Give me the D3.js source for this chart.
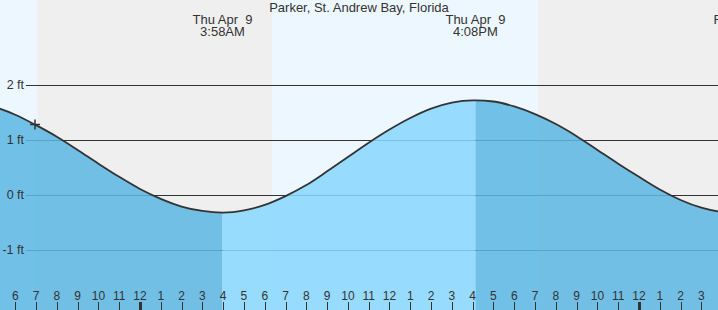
<!DOCTYPE html>
<html>
<head>
<meta charset="utf-8">
<script src="https://cdn.jsdelivr.net/npm/d3@7"></script>
<style>
  body { margin: 0; background: #fff; }
  svg { display: block; font-family: "Liberation Sans", Arial, sans-serif; }
  text { white-space: pre; }
</style>
</head>
<body>
<svg id="chart"></svg>
<script>
// данные: прилив/отлив (футы), время локальное
const title = "Parker, St. Andrew Bay, Florida";

const eventTimes = ["2026-04-08 14:58", "2026-04-09 03:58", "2026-04-09 16:08", "2026-04-10 04:56"];
const eventHeights = [1.72, -0.32, 1.72, -0.34];
const eventTypes = ["high", "low", "high", "low"];

const hourTimes = [
    "2026-04-08 17:00", "2026-04-08 18:00", "2026-04-08 19:00", "2026-04-08 20:00",
    "2026-04-08 21:00", "2026-04-08 22:00", "2026-04-08 23:00", "2026-04-09 00:00",
    "2026-04-09 01:00", "2026-04-09 02:00", "2026-04-09 03:00", "2026-04-09 04:00",
    "2026-04-09 05:00", "2026-04-09 06:00", "2026-04-09 07:00", "2026-04-09 08:00",
    "2026-04-09 09:00", "2026-04-09 10:00", "2026-04-09 11:00", "2026-04-09 12:00",
    "2026-04-09 13:00", "2026-04-09 14:00", "2026-04-09 15:00", "2026-04-09 16:00",
    "2026-04-09 17:00", "2026-04-09 18:00", "2026-04-09 19:00", "2026-04-09 20:00",
    "2026-04-09 21:00", "2026-04-09 22:00", "2026-04-09 23:00", "2026-04-10 00:00",
    "2026-04-10 01:00", "2026-04-10 02:00", "2026-04-10 03:00", "2026-04-10 04:00"
];
const hourHeights = [
    1.60, 1.46, 1.27, 1.06, 0.82, 0.57, 0.33, 0.11,
    -0.07, -0.21, -0.29, -0.32, -0.28, -0.18, -0.02, 0.18,
    0.43, 0.69, 0.95, 1.19, 1.40, 1.57, 1.68, 1.72,
    1.70, 1.61, 1.47, 1.29, 1.07, 0.82, 0.57, 0.33,
    0.10, -0.09, -0.23, -0.31
];

// восход / закат
const sunTimes = ["2026-04-08 07:20", "2026-04-08 19:03", "2026-04-09 06:21", "2026-04-09 19:08", "2026-04-10 06:20"];
const sunTypes = ["rise", "set", "rise", "set", "rise"];

const yTicks = [-1, 0, 1, 2];

// текущий момент (крестик)
const nowTime = "2026-04-08 18:57";
const nowHeight = 1.28;

const viewStart = "2026-04-08 17:16";
const viewEnd = "2026-04-10 03:48";

const width = 718;
const height = 310;

const parse = d3.timeParse("%Y-%m-%d %H:%M");

const svg = d3.select("#chart")
    .attr("width", width)
    .attr("height", height);

// шкалы
const x = d3.scaleTime()
    .domain([parse(viewStart), parse(viewEnd)])
    .range([0, width]);

const y = d3.scaleLinear()
    .domain([-1, 2])
    .range([250, 85]);

// фон день/ночь
const sun = sunTimes.map((t, i) => ({ t: parse(t), type: sunTypes[i] }));
const bands = [];
for (let i = 0; i < sun.length - 1; i++) {
    bands.push({ a: sun[i].t, b: sun[i + 1].t, day: sun[i].type == "rise" });
}
svg.append("g")
    .selectAll("rect")
    .data(bands)
    .enter()
    .append("rect")
    .attr("x", d => x(d.a))
    .attr("width", d => x(d.b) - x(d.a))
    .attr("y", 0)
    .attr("height", height)
    .attr("fill", d => d.day ? "#edf7ff" : "#efefef");

// сетка по оси Y (под водой)
svg.append("g")
    .selectAll("line")
    .data(yTicks)
    .enter()
    .append("line")
    .attr("x1", 26)
    .attr("x2", width)
    .attr("y1", d => Math.round(y(d)) + 0.5)
    .attr("y2", d => Math.round(y(d)) + 0.5)
    .attr("stroke", "#333")
    .attr("stroke-width", 1);

// общий ряд: почасовые + экстремумы
const events = eventTimes.map((t, i) => ({ t: parse(t), h: eventHeights[i], type: eventTypes[i] }));
const series = hourTimes.map((t, i) => ({ t: parse(t), h: hourHeights[i] }))
    .concat(events)
    .sort((a, b) => a.t - b.t);

const area = d3.area()
    .x(d => x(d.t))
    .y0(height)
    .y1(d => y(d.h))
    .curve(d3.curveMonotoneX);

const line = d3.line()
    .x(d => x(d.t))
    .y(d => y(d.h))
    .curve(d3.curveMonotoneX);

// вода: отлив темнее, прилив светлее
const segs = [];
for (let i = 0; i < events.length - 1; i++) {
    const a = events[i].t, b = events[i + 1].t;
    segs.push({
        pts: series.filter(d => d.t >= a && d.t <= b),
        falling: events[i].type == "high"
    });
}
svg.append("g")
    .selectAll("path")
    .data(segs)
    .enter()
    .append("path")
    .attr("d", d => area(d.pts))
    .attr("fill", d => d.falling ? "rgb(92,183,227)" : "rgb(136,215,255)")
    .attr("fill-opacity", 0.86);

// кривая уровня
svg.append("path")
    .datum(series)
    .attr("fill", "none")
    .attr("stroke", "#333")
    .attr("stroke-width", 1.8)
    .attr("d", line);

// подписи футов
svg.append("g")
    .selectAll("text")
    .data(yTicks)
    .enter()
    .append("text")
    .attr("x", 24)
    .attr("y", d => y(d) + 4)
    .attr("text-anchor", "end")
    .attr("font-size", 12.5)
    .attr("fill", "#333")
    .text(d => d + " ft");

// часовые отметки снизу
const hours = x.ticks(d3.timeHour.every(1));
const axis = svg.append("g");
axis.selectAll("line")
    .data(hours)
    .enter()
    .append("line")
    .attr("x1", d => Math.round(x(d)) + 0.5)
    .attr("x2", d => Math.round(x(d)) + 0.5)
    .attr("y1", 302)
    .attr("y2", height)
    .attr("stroke", "#333")
    .attr("stroke-width", d => d.getHours() == 0 ? 3 : 1);
axis.selectAll("text")
    .data(hours)
    .enter()
    .append("text")
    .attr("x", d => x(d))
    .attr("y", 300)
    .attr("text-anchor", "middle")
    .attr("font-size", 12)
    .attr("fill", "#333")
    .text(d3.timeFormat("%-I"));

// подписи экстремумов
const fmtDay = d3.timeFormat("%a %b %e");
const fmtTime = d3.timeFormat("%-I:%M%p");
const lab = svg.append("g")
    .selectAll("g")
    .data(events)
    .enter()
    .append("g");
lab.append("text")
    .attr("x", d => x(d.t))
    .attr("y", 24)
    .attr("text-anchor", "middle")
    .attr("font-size", 13)
    .attr("fill", "#333")
    .text(d => fmtDay(d.t));
lab.append("text")
    .attr("x", d => x(d.t))
    .attr("y", 36)
    .attr("text-anchor", "middle")
    .attr("font-size", 13)
    .attr("fill", "#333")
    .text(d => fmtTime(d.t));

// заголовок
svg.append("text")
    .attr("x", width / 2)
    .attr("y", 11.5)
    .attr("text-anchor", "middle")
    .attr("font-size", 13)
    .attr("fill", "#333")
    .text(title);

// крестик текущего момента
const nx = x(parse(nowTime)), ny = y(nowHeight);
svg.append("path")
    .attr("d", `M${nx - 5},${ny}H${nx + 5}M${nx},${ny - 5}V${ny + 5}`)
    .attr("stroke", "#333")
    .attr("stroke-width", 1.5);
</script>
</body>
</html>
